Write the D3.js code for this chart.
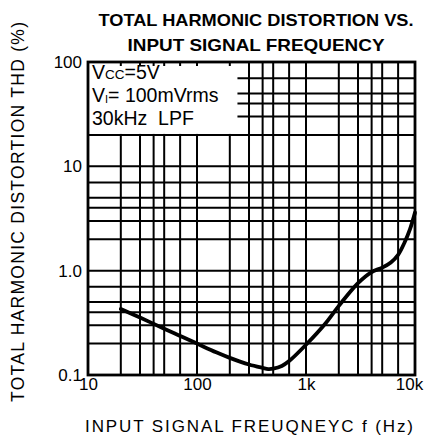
<!DOCTYPE html>
<html>
<head>
<meta charset="utf-8">
<script src="https://cdn.jsdelivr.net/npm/d3@7"></script>
<style>
  body { margin: 0; background: #fff; }
  svg { display: block; }
  text { font-family: "Liberation Sans", Arial, sans-serif; fill: #000; }
</style>
</head>
<body>
<svg id="chart" width="435" height="437"></svg>
<script>
'use strict';

// frequency (Hz) vs THD (%)
var freqs = [20, 30, 50, 70, 100, 150, 200, 300, 400, 450, 500, 600, 700, 1000, 1500, 2000, 3000, 4000, 5000, 6000, 7000, 8000, 9000, 10000];
var thd   = [0.43, 0.355, 0.278, 0.237, 0.2, 0.165, 0.146, 0.126, 0.117, 0.114, 0.115, 0.122, 0.136, 0.195, 0.31, 0.46, 0.76, 0.97, 1.07, 1.2, 1.42, 1.85, 2.5, 3.6];

var xTicks = [10, 100, 1000, 10000];
var xTickLabels = ['10', '100', '1k', '10k'];
var yTicks = [0.1, 1, 10, 100];
var yTickLabels = ['0.1', '1.0', '10', '100'];
var gridSteps = [2, 3, 4, 5, 7];

var titleLines = ['TOTAL HARMONIC DISTORTION VS.', 'INPUT SIGNAL FREQUENCY'];
var xTitle = 'INPUT SIGNAL FREUQNEYC f (Hz)';
var yTitle = 'TOTAL HARMONIC DISTORTION THD (%)';

var MARGIN = { TOP: 62, RIGHT: 20, BOTTOM: 62, LEFT: 88 };
var W = 435, H = 437;

var svg = d3.select('#chart');

var x = d3.scaleLog().domain([10, 10000]).range([MARGIN.LEFT, W - MARGIN.RIGHT]);
var y = d3.scaleLog().domain([0.1, 100]).range([H - MARGIN.BOTTOM, MARGIN.TOP]);

// grid lines: decades plus 2,3,4,5,7 within each decade
var xGrid = [];
xTicks.forEach(function (d) {
    xGrid.push(d);
    if (d < 10000) gridSteps.forEach(function (s) { xGrid.push(d * s); });
});
var yGrid = [];
yTicks.forEach(function (d) {
    yGrid.push(d);
    if (d < 100) gridSteps.forEach(function (s) { yGrid.push(d * s); });
});

var grid = svg.append('g').attr('stroke', '#000').attr('stroke-width', 2);

grid.selectAll('line.v')
    .data(xGrid)
    .enter().append('line')
    .attr('class', 'v')
    .attr('x1', function (d) { return x(d); })
    .attr('x2', function (d) { return x(d); })
    .attr('y1', y(100))
    .attr('y2', y(0.1));

grid.selectAll('line.h')
    .data(yGrid)
    .enter().append('line')
    .attr('class', 'h')
    .attr('x1', x(10))
    .attr('x2', x(10000))
    .attr('y1', function (d) { return y(d); })
    .attr('y2', function (d) { return y(d); });

// legend box hides the grid in the top-left corner
svg.append('rect')
    .attr('x', x(10) + 1)
    .attr('y', y(100) + 4)
    .attr('width', x(235) - x(10) - 1)
    .attr('height', y(20) - y(100) - 5)
    .attr('fill', '#fff');

// frame
svg.append('rect')
    .attr('x', x(10))
    .attr('y', y(100))
    .attr('width', x(10000) - x(10))
    .attr('height', y(0.1) - y(100))
    .attr('fill', 'none')
    .attr('stroke', '#000')
    .attr('stroke-width', 2.8);

// curve
var line = d3.line()
    .x(function (d, i) { return x(freqs[i]); })
    .y(function (d) { return y(d); })
    .curve(d3.curveCatmullRom.alpha(0.5));

svg.append('path')
    .datum(thd)
    .attr('d', line)
    .attr('fill', 'none')
    .attr('stroke', '#000')
    .attr('stroke-width', 3.8)
    .attr('stroke-linecap', 'round');

// axes
var xAxis = d3.axisBottom(x)
    .tickValues(xTicks)
    .tickSize(0)
    .tickPadding(3)
    .tickFormat(function (d, i) { return xTickLabels[i]; });

svg.append('g')
    .attr('transform', 'translate(0,' + y(0.1) + ')')
    .call(xAxis)
    .call(function (g) { g.select('.domain').remove(); })
    .selectAll('text')
    .style('font-size', '17px')
    .style('font-family', '"Liberation Sans", Arial, sans-serif')
    .attr('fill', '#000')
    .attr('dx', function (d, i) { return i === xTicks.length - 1 ? '-0.35em' : 0; });

var yAxis = d3.axisLeft(y)
    .tickValues(yTicks)
    .tickSize(0)
    .tickPadding(6)
    .tickFormat(function (d, i) { return yTickLabels[i]; });

svg.append('g')
    .attr('transform', 'translate(' + x(10) + ',0)')
    .call(yAxis)
    .call(function (g) { g.select('.domain').remove(); })
    .selectAll('text')
    .style('font-size', '17px')
    .style('font-family', '"Liberation Sans", Arial, sans-serif')
    .attr('fill', '#000');

// title
var titleWidths = [315, 257];
svg.selectAll('text.title')
    .data(titleLines)
    .enter().append('text')
    .attr('class', 'title')
    .attr('x', 256)
    .attr('y', function (d, i) { return 26 + i * 25; })
    .attr('text-anchor', 'middle')
    .attr('textLength', function (d, i) { return titleWidths[i]; })
    .attr('lengthAdjust', 'spacingAndGlyphs')
    .style('font-size', '16.5px')
    .style('font-weight', 'bold')
    .text(function (d) { return d; });

// axis titles
svg.append('text')
    .attr('x', 249)
    .attr('y', 432)
    .attr('text-anchor', 'middle')
    .attr('textLength', 328)
    .attr('lengthAdjust', 'spacing')
    .style('font-size', '17px')
    .text(xTitle);

svg.append('text')
    .attr('transform', 'translate(24,212) rotate(-90)')
    .attr('text-anchor', 'middle')
    .attr('textLength', 380)
    .attr('lengthAdjust', 'spacing')
    .style('font-size', '17.5px')
    .text(yTitle);

// legend text
var legend = svg.append('g')
    .attr('transform', 'translate(' + (x(10) + 4) + ',0)')
    .style('font-size', '19.5px');

var l1 = legend.append('text').attr('y', 79);
l1.append('tspan').text('V');
l1.append('tspan').style('font-size', '13.5px').text('CC');
l1.append('tspan').text('=5V');

var l2 = legend.append('text').attr('y', 102);
l2.append('tspan').text('V');
l2.append('tspan').style('font-size', '11px').attr('dy', 1).text('I');
l2.append('tspan').attr('dy', -1).text('= 100mVrms');

legend.append('text').attr('y', 125).text('30kHz\u00a0\u00a0LPF');
</script>
</body>
</html>
